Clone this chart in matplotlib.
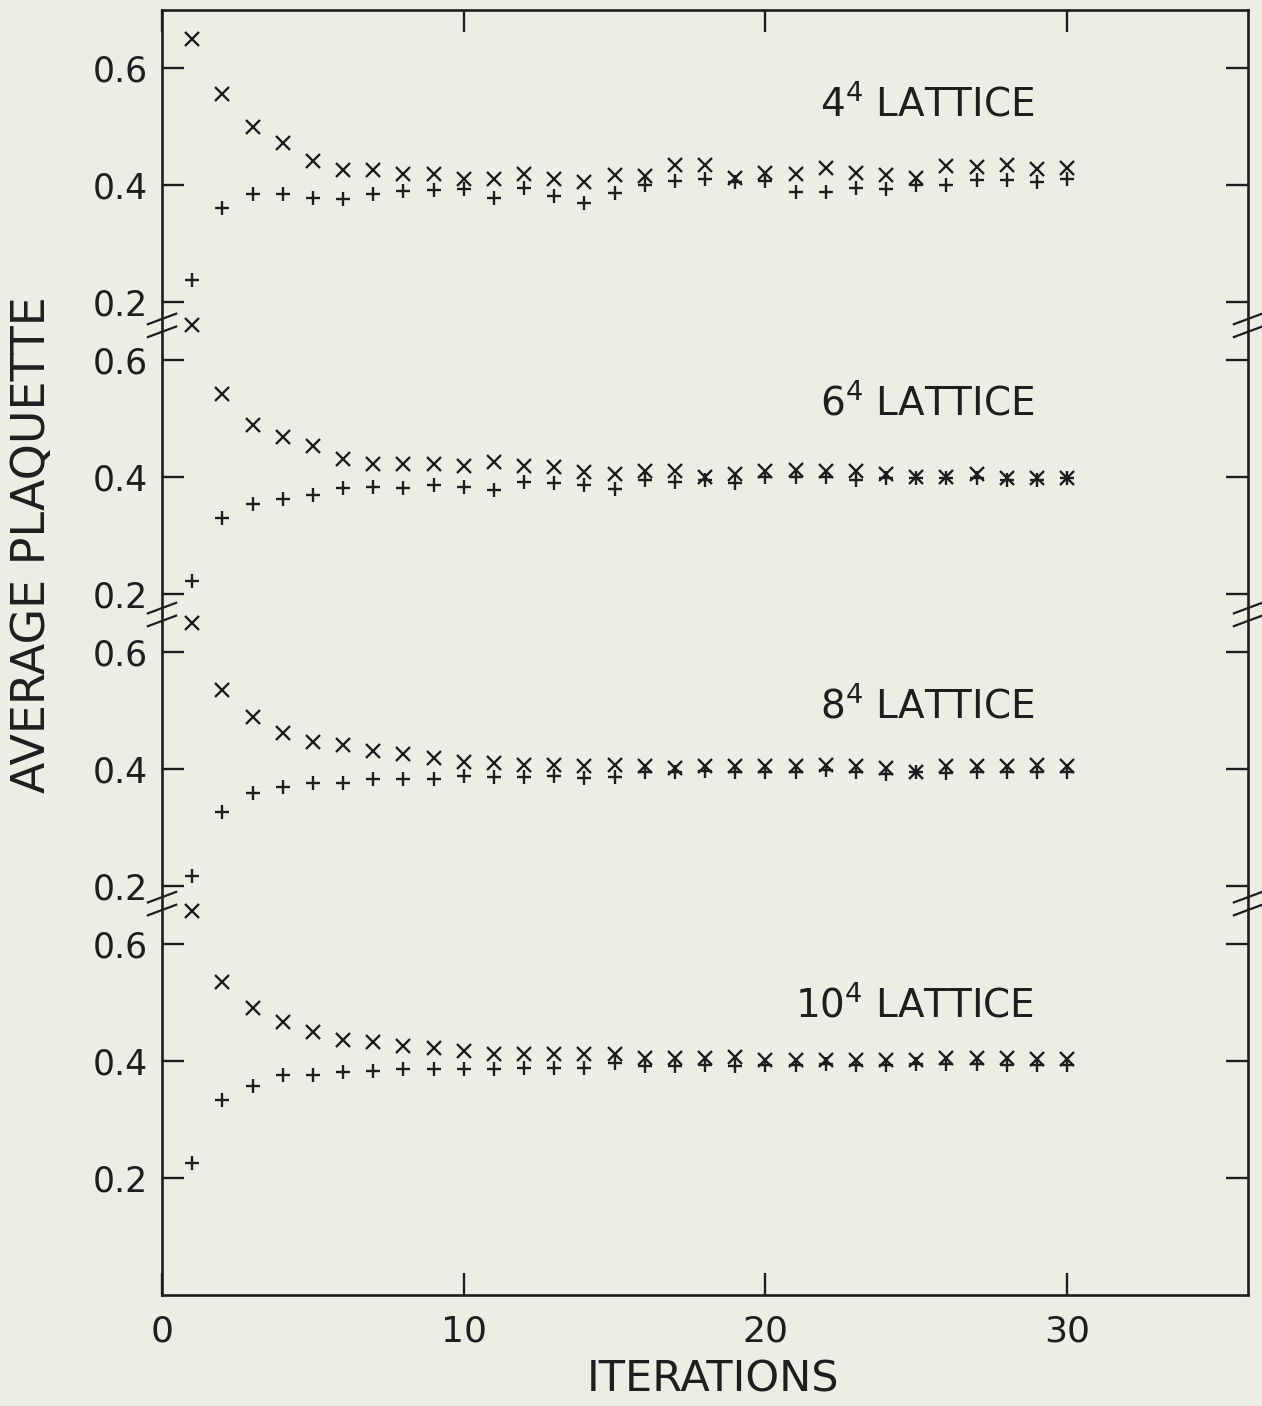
import matplotlib.pyplot as plt
import numpy as np
from matplotlib.transforms import blended_transform_factory

# iteration number, shared by all four lattices
iterations = np.arange(1, 31)

lattice_names = ["$4^4$ LATTICE", "$6^4$ LATTICE", "$8^4$ LATTICE", "$10^4$ LATTICE"]

# "x" series (one per lattice)
cross_4 = [0.650, 0.556, 0.500, 0.473, 0.441, 0.426, 0.426, 0.420, 0.419, 0.411,
           0.411, 0.419, 0.411, 0.406, 0.418, 0.416, 0.434, 0.434, 0.413, 0.421,
           0.419, 0.430, 0.421, 0.418, 0.413, 0.433, 0.432, 0.434, 0.427, 0.430]
cross_6 = [0.661, 0.543, 0.489, 0.469, 0.453, 0.432, 0.423, 0.422, 0.423, 0.420,
           0.426, 0.420, 0.417, 0.409, 0.406, 0.410, 0.410, 0.400, 0.405, 0.410,
           0.412, 0.410, 0.410, 0.405, 0.400, 0.400, 0.405, 0.398, 0.398, 0.398]
cross_8 = [0.650, 0.536, 0.489, 0.462, 0.447, 0.441, 0.431, 0.426, 0.419, 0.412,
           0.410, 0.407, 0.408, 0.406, 0.407, 0.406, 0.403, 0.406, 0.405, 0.406,
           0.406, 0.407, 0.406, 0.402, 0.396, 0.406, 0.406, 0.405, 0.407, 0.405]
cross_10 = [0.657, 0.536, 0.492, 0.467, 0.451, 0.436, 0.433, 0.426, 0.423, 0.417,
            0.412, 0.413, 0.413, 0.412, 0.412, 0.406, 0.406, 0.406, 0.407, 0.403,
            0.403, 0.403, 0.403, 0.403, 0.403, 0.405, 0.405, 0.406, 0.404, 0.404]

# "+" series
plus_4 = [0.237, 0.361, 0.385, 0.385, 0.378, 0.377, 0.385, 0.390, 0.392, 0.394,
          0.378, 0.396, 0.381, 0.369, 0.387, 0.401, 0.407, 0.410, 0.405, 0.407,
          0.388, 0.388, 0.395, 0.394, 0.400, 0.401, 0.409, 0.409, 0.405, 0.411]
plus_6 = [0.223, 0.330, 0.355, 0.363, 0.370, 0.381, 0.383, 0.381, 0.386, 0.383,
          0.378, 0.391, 0.390, 0.386, 0.380, 0.395, 0.392, 0.395, 0.390, 0.400,
          0.400, 0.400, 0.395, 0.398, 0.398, 0.398, 0.398, 0.395, 0.395, 0.398]
plus_8 = [0.217, 0.327, 0.360, 0.370, 0.377, 0.377, 0.383, 0.383, 0.383, 0.388,
          0.387, 0.387, 0.389, 0.385, 0.387, 0.395, 0.396, 0.397, 0.395, 0.395,
          0.395, 0.398, 0.396, 0.392, 0.396, 0.393, 0.395, 0.395, 0.395, 0.396]
plus_10 = [0.226, 0.334, 0.357, 0.377, 0.377, 0.381, 0.384, 0.386, 0.386, 0.387,
           0.386, 0.389, 0.389, 0.389, 0.397, 0.392, 0.392, 0.393, 0.392, 0.393,
           0.393, 0.395, 0.393, 0.393, 0.395, 0.395, 0.396, 0.393, 0.394, 0.394]

crosses = [cross_4, cross_6, cross_8, cross_10]
pluses = [plus_4, plus_6, plus_8, plus_10]

panel_ticks = [0.2, 0.4, 0.6]
panel_tick_labels = ["0.2", "0.4", "0.6"]
x_ticks = [0, 10, 20, 30]
x_tick_labels = ["0", "10", "20", "30"]

# each panel is stacked 0.5 units above the next one
offsets = [1.5, 1.0, 0.5, 0.0]
breaks = [0.67, 1.165, 1.66]
label_y = [0.52, 0.507, 0.488, 0.477]

paper = "#eceee5"
ink = "#1e1e1e"
plt.rcParams["font.family"] = ["DejaVu Sans"]
plt.rcParams["mathtext.fontset"] = "dejavusans"

fig = plt.figure(figsize=(12.62, 14.06), dpi=100, facecolor=paper)
ax = fig.add_axes([0.1284, 0.0790, 0.8605, 0.9139], facecolor=paper)

for name, cr, pl, off, ly in zip(lattice_names, crosses, pluses, offsets, label_y):
    ax.plot(iterations, np.array(cr) + off, ls="", marker="x", ms=10, mew=1.7,
            color=ink, clip_on=False)
    ax.plot(iterations, np.array(pl) + off, ls="", marker="+", ms=10.5, mew=1.7,
            color=ink, clip_on=False)
    ax.text(28.9, ly + off, name, ha="right", va="baseline", fontsize=28,
            color=ink)

ax.set_xlim(0, 36)
ax.set_ylim(0, 2.20)

yt = [t + off for off in offsets for t in panel_ticks]
ytl = [lab for off in offsets for lab in panel_tick_labels]
ax.set_yticks(yt)
ax.set_yticklabels(ytl)
ax.set_xticks(x_ticks)
ax.set_xticklabels(x_tick_labels)

ax.tick_params(axis="both", direction="in", length=16, width=1.7, color=ink,
               top=True, right=True)
ax.tick_params(axis="y", labelsize=25, pad=10, labelcolor=ink)
ax.tick_params(axis="x", labelsize=26, pad=14, labelcolor=ink)
for sp in ax.spines.values():
    sp.set_linewidth(1.9)
    sp.set_color(ink)

# axis break marks on both spines
trans = blended_transform_factory(ax.transAxes, ax.transData)
for b in breaks:
    for xc in (0.0, 1.0):
        for dy in (-0.011, 0.011):
            ax.plot([xc - 0.013, xc + 0.013], [b + dy - 0.009, b + dy + 0.009],
                    transform=trans, color=ink, lw=1.6, clip_on=False)

fig.text(33 / 1262, 1 - 545 / 1406, "AVERAGE PLAQUETTE", rotation=90,
         ha="center", va="center", fontsize=33, color=ink)
fig.text(713 / 1262, 1 - 1380 / 1406, "ITERATIONS", ha="center", va="center",
         fontsize=31, color=ink)

fig.savefig("out.png", facecolor=paper)
